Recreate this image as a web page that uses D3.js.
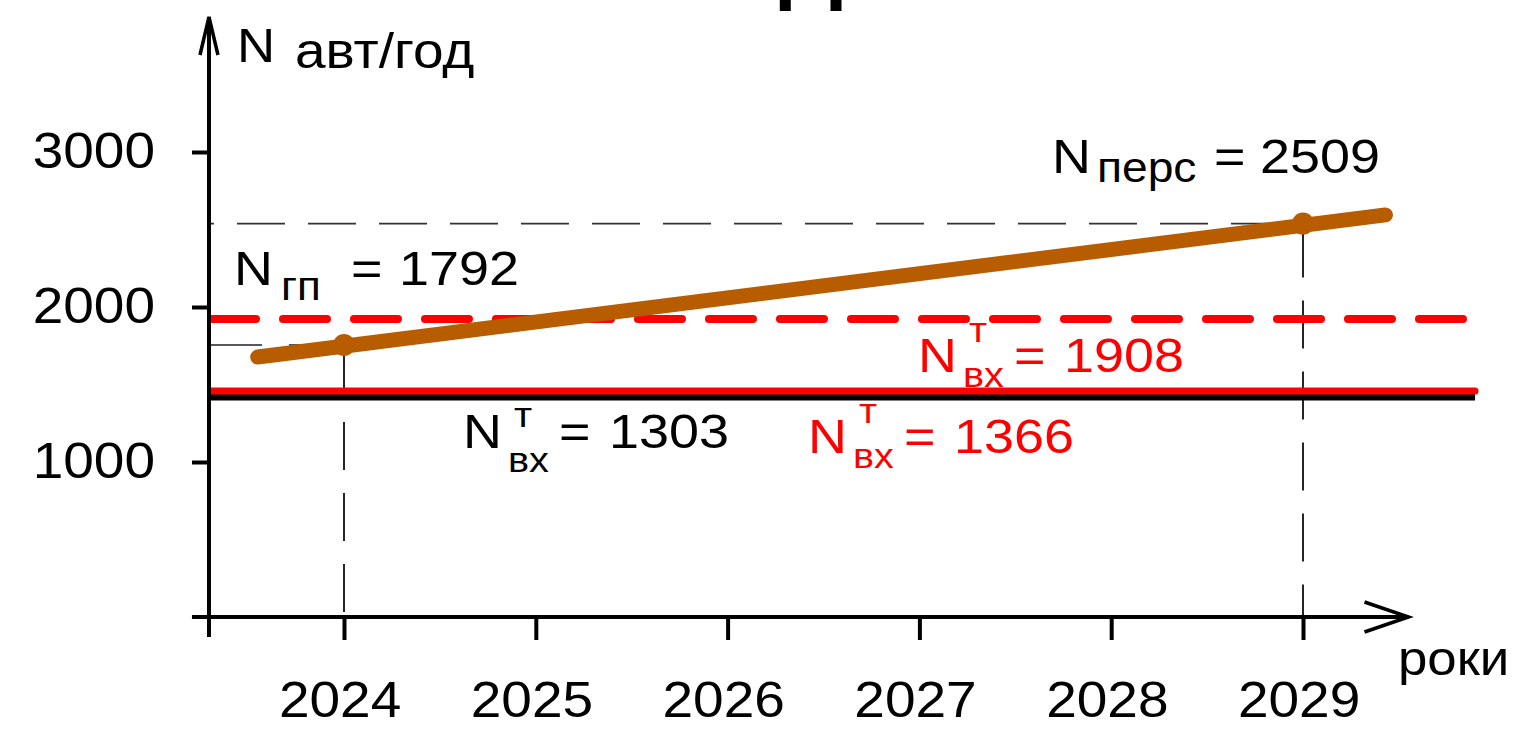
<!DOCTYPE html>
<html>
<head>
<meta charset="utf-8">
<script src="https://cdn.jsdelivr.net/npm/d3@7/dist/d3.min.js"></script>
<style>
  html, body { margin: 0; padding: 0; background: #fff; }
  svg { display: block; }
  text { font-family: "Liberation Sans", Arial, sans-serif; }
</style>
</head>
<body>
<svg id="chart" width="1520" height="729"></svg>
<script>
// ---------- data ----------
const years = [2024, 2025, 2026, 2027, 2028, 2029];
const yTickValues = [1000, 2000, 3000];
// perspective traffic growth line (end points of the drawn trend)
const trendYears = [2023.55, 2029.43];
const trendValues = [1677, 2594];
// marked points on the trend: current (N гп) and perspective (N перс)
const markerYears = [2024, 2029];
const markerValues = [1755, 2538];
const markerLabels = ["1792", "2509"];
// capacity levels (as drawn)
const levelBlack = 1419;      // N вх т = 1303
const levelRedSolid = 1458;   // N вх т = 1366
const levelRedDashed = 1922;  // N вх т = 1908
const levelLabels = ["1303", "1366", "1908"];
const axisStartYear = 2023.296;
const levelEndYear = 2029.897;
const axisEndYear = 2029.55;

// ---------- scales ----------
const SX = 1.1; // horizontal stretch of the lettering
const svg = d3.select("#chart");
const x = d3.scaleLinear().domain([2024, 2029]).range([344, 1303]);
const y = d3.scaleLinear().domain([0, 3000]).range([617, 152]);

const x0 = x(axisStartYear);
const y0 = y(0);
const xEnd = x(levelEndYear);

// partially visible title glyph
svg.append("text").attr("x", 811).attr("y", -7)
  .attr("text-anchor", "middle").attr("font-size", 90).attr("font-weight", "bold")
  .attr("fill", "#000").text("Д");

// ---------- dashed helper lines ----------
svg.append("line")
  .attr("x1", x0).attr("x2", x(markerYears[1]))
  .attr("y1", y(markerValues[1])).attr("y2", y(markerValues[1]))
  .attr("stroke", "#333").attr("stroke-width", 1.6)
  .attr("stroke-dasharray", "48 23").attr("stroke-dashoffset", 43);
svg.append("line")
  .attr("x1", x0).attr("x2", x(markerYears[0]))
  .attr("y1", y(markerValues[0])).attr("y2", y(markerValues[0]))
  .attr("stroke", "#222").attr("stroke-width", 1.6)
  .attr("stroke-dasharray", "53 27");
markerYears.forEach((yr, i) => {
  svg.append("line")
    .attr("x1", x(yr)).attr("x2", x(yr))
    .attr("y1", y(markerValues[i])).attr("y2", y0 + 22)
    .attr("stroke", "#000").attr("stroke-width", 1.7)
    .attr("stroke-dasharray", "48 23").attr("stroke-dashoffset", -6);
});

// ---------- level lines ----------
svg.append("line")
  .attr("x1", x0).attr("x2", xEnd)
  .attr("y1", y(levelBlack)).attr("y2", y(levelBlack))
  .attr("stroke", "#000").attr("stroke-width", 7);
svg.append("line")
  .attr("x1", x0 + 2).attr("x2", xEnd)
  .attr("y1", y(levelRedSolid)).attr("y2", y(levelRedSolid))
  .attr("stroke", "#ff0000").attr("stroke-width", 7).attr("stroke-linecap", "round");
svg.append("line")
  .attr("x1", x0 + 3).attr("x2", xEnd - 4)
  .attr("y1", y(levelRedDashed)).attr("y2", y(levelRedDashed))
  .attr("stroke", "#ff0000").attr("stroke-width", 8).attr("stroke-linecap", "round")
  .attr("stroke-dasharray", "44 27");

// ---------- trend ----------
const trend = trendYears.map((t, i) => [t, trendValues[i]]);
svg.append("path")
  .datum(trend)
  .attr("d", d3.line().x(d => x(d[0])).y(d => y(d[1])))
  .attr("fill", "none").attr("stroke", "#b85c00")
  .attr("stroke-width", 15).attr("stroke-linecap", "round");
svg.selectAll("circle.m").data(markerYears).enter().append("circle")
  .attr("class", "m")
  .attr("cx", d => x(d)).attr("cy", (d, i) => y(markerValues[i]))
  .attr("r", 11).attr("fill", "#b85c00");

// ---------- axes ----------
const yAxis = d3.axisLeft(y).tickValues(yTickValues).tickFormat(d3.format("d"))
  .tickSize(17).tickPadding(37);
const gy = svg.append("g").attr("transform", `translate(${x0},0)`).call(yAxis);
gy.select(".domain").remove();
gy.selectAll(".tick line").attr("stroke", "#000").attr("stroke-width", 4);
gy.selectAll(".tick text").attr("font-size", 50).attr("fill", "#000")
  .attr("font-family", "Liberation Sans, Arial, sans-serif")
  .attr("x", -(17 + 37) / SX).attr("dy", "0.3em")
  .attr("transform", `scale(${SX},1)`);
svg.append("line").attr("x1", x0 - 17).attr("x2", x0).attr("y1", y0).attr("y2", y0)
  .attr("stroke", "#000").attr("stroke-width", 4);

const xAxis = d3.axisBottom(x).tickValues(years).tickFormat(d3.format("d"))
  .tickSize(23).tickPadding(42);
const gx = svg.append("g").attr("transform", `translate(0,${y0})`).call(xAxis);
gx.select(".domain").remove();
gx.selectAll(".tick line").attr("stroke", "#000").attr("stroke-width", 4);
gx.selectAll(".tick text").attr("font-size", 50).attr("fill", "#000")
  .attr("font-family", "Liberation Sans, Arial, sans-serif").attr("dx", -4)
  .attr("transform", `scale(${SX},1)`);

// axis lines with arrows
svg.append("line").attr("x1", x0).attr("x2", x0).attr("y1", 17).attr("y2", y0 + 20)
  .attr("stroke", "#000").attr("stroke-width", 4);
svg.append("path").attr("d", `M${x0 - 9},55 L${x0},17 L${x0 + 9},55`)
  .attr("fill", "none").attr("stroke", "#000").attr("stroke-width", 3.5);
const xa = x(axisEndYear);
svg.append("line").attr("x1", x0 - 17).attr("x2", xa).attr("y1", y0).attr("y2", y0)
  .attr("stroke", "#000").attr("stroke-width", 4);
svg.append("path").attr("d", `M${xa - 44},${y0 - 15} L${xa},${y0} L${xa - 44},${y0 + 15}`)
  .attr("fill", "none").attr("stroke", "#000").attr("stroke-width", 3.5);

// ---------- texts ----------
function txt(xp, yp, s, size, color) {
  return svg.append("text").attr("x", xp / SX).attr("y", yp).attr("font-size", size)
    .attr("transform", `scale(${SX},1)`)
    .attr("fill", color || "#000").text(s);
}
txt(237, 62, "N", 48);
txt(295, 68, "авт/год", 50);
txt(1398, 675, "роки", 48);

// N гп
txt(234, 285, "N", 49);
txt(281, 300, "гп", 40);
txt(351, 285, "=", 49);
txt(399, 285, markerLabels[0], 49);

// N перс
txt(1052, 173, "N", 49);
txt(1097, 182, "перс", 42);
txt(1214, 173, "=", 49);
txt(1260, 173, markerLabels[1], 49);

// capacity labels: N, sup т, sub вх, =, value
function cap(xn, yb, val, color, supDy, subDy) {
  txt(xn, yb, "N", 49, color);
  txt(xn + 51, yb + supDy, "т", 36, color);
  txt(xn + 45, yb + subDy, "вх", 36, color);
  txt(xn + 96, yb, "=", 49, color);
  txt(xn + 146, yb, val, 49, color);
}
cap(463, 448, levelLabels[0], "#000", -21, 24);
cap(808, 453, levelLabels[1], "#ff0000", -30, 15);
cap(918, 372, levelLabels[2], "#ff0000", -30, 15);
</script>
</body>
</html>
